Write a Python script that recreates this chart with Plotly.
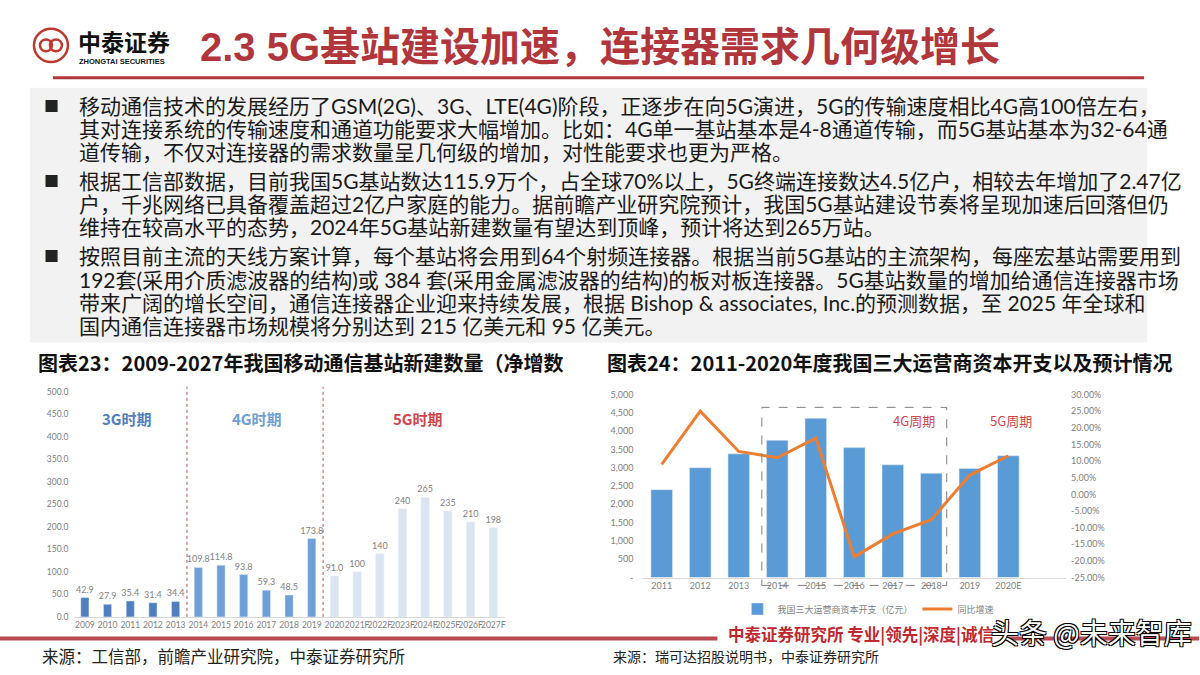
import plotly.graph_objects as go

W, H = 1200, 675
def px(x): return x / W
def py(y): return 1 - y / H

# ---------------- data ----------------
# Chart 23: new base stations (10k)
years23 = ["2009", "2010", "2011", "2012", "2013", "2014", "2015", "2016", "2017", "2018",
           "2019", "2020", "2021F", "2022F", "2023F", "2024F", "2025F", "2026F", "2027F"]
stations23 = [42.9, 27.9, 35.4, 31.4, 34.4, 109.8, 114.8, 93.8, 59.3, 48.5,
              173.8, 91.0, 100, 140, 240, 265, 235, 210, 198]
period23 = ["3G"] * 5 + ["4G"] * 6 + ["5G"] * 8

# Chart 24: capex of the three operators (100m CNY) and YoY growth (%)
years24 = ["2011", "2012", "2013", "2014", "2015", "2016", "2017", "2018", "2019", "2020E"]
capex24 = [2400, 3000, 3380, 3750, 4350, 3550, 3080, 2850, 2980, 3330]
yoy24 = [9.0, 25.0, 12.9, 11.0, 16.9, -18.8, -11.9, -7.6, 5.8, 11.6]

y23_ticks = list(range(0, 501, 50))
y24_ticks = list(range(0, 5001, 500))
y24r_ticks = list(range(-25, 31, 5))

body_lines = [
    "移动通信技术的发展经历了GSM(2G)、3G、LTE(4G)阶段，正逐步在向5G演进，5G的传输速度相比4G高100倍左右，",
    "其对连接系统的传输速度和通道功能要求大幅增加。比如：4G单一基站基本是4-8通道传输，而5G基站基本为32-64通",
    "道传输，不仅对连接器的需求数量呈几何级的增加，对性能要求也更为严格。",
    "根据工信部数据，目前我国5G基站数达115.9万个，占全球70%以上，5G终端连接数达4.5亿户，相较去年增加了2.47亿",
    "户，千兆网络已具备覆盖超过2亿户家庭的能力。据前瞻产业研究院预计，我国5G基站建设节奏将呈现加速后回落但仍",
    "维持在较高水平的态势，2024年5G基站新建数量有望达到顶峰，预计将达到265万站。",
    "按照目前主流的天线方案计算，每个基站将会用到64个射频连接器。根据当前5G基站的主流架构，每座宏基站需要用到",
    "192套(采用介质滤波器的结构)或 384 套(采用金属滤波器的结构)的板对板连接器。5G基站数量的增加给通信连接器市场",
    "带来广阔的增长空间，通信连接器企业迎来持续发展，根据 Bishop & associates, Inc.的预测数据，至 2025 年全球和",
    "国内通信连接器市场规模将分别达到 215 亿美元和 95 亿美元。",
]
body_y = [101, 125, 148, 177, 201, 224, 254, 278, 301, 325]
bullet_y = [101, 177, 254]

# ---------------- styles ----------------
CJK = "Lato, 'Noto Sans CJK SC', sans-serif"
SANS = "'Noto Sans CJK SC', sans-serif"
RED = "#b0363c"
period_colors = {"3G": "#4f7fbd", "4G": "#6e9fd7", "5G": "#dbe5f1"}

fig = go.Figure()

labels23 = [f"{v:.1f}" if i <= 11 else f"{v:.0f}" for i, v in enumerate(stations23)]
fig.add_trace(go.Bar(
    x=years23, y=stations23, xaxis="x", yaxis="y",
    marker_color=[period_colors[p] for p in period23], width=0.36,
    text=labels23, textposition="outside", cliponaxis=False, constraintext="none",
    textfont=dict(size=9, color="#7f7f7f", family="Lato, sans-serif"),
    showlegend=False, hoverinfo="skip",
))

fig.add_trace(go.Bar(
    x=years24, y=capex24, xaxis="x2", yaxis="y2",
    marker_color="#5b9bd5", width=0.56,
    name="我国三大运营商资本开支（亿元）",
))
fig.add_trace(go.Scatter(
    x=years24, y=yoy24, xaxis="x2", yaxis="y3", mode="lines",
    line=dict(color="#ed7d31", width=3),
    name="同比增速",
))

axis_font = dict(size=9, color="#808080", family="Lato, 'Noto Sans CJK SC', sans-serif")

fig.update_layout(
    width=W, height=H, margin=dict(l=0, r=0, t=0, b=0),
    paper_bgcolor="white", plot_bgcolor="rgba(0,0,0,0)",
    xaxis=dict(domain=[px(73.6), px(505)], type="category", range=[-0.5, 18.5],
               showline=True, linecolor="#d9d9d9", linewidth=1, ticks="",
               tickfont=dict(size=8.5, color="#808080", family="Lato, sans-serif"),
               tickangle=0, showgrid=False, fixedrange=True),
    yaxis=dict(domain=[py(621), py(392)], range=[0, 500], tickvals=y23_ticks,
               ticktext=[f"{v:.1f}" for v in y23_ticks], showgrid=False, zeroline=False,
               tickfont=dict(size=8.5, color="#808080", family="Lato, sans-serif"),
               ticklabelstandoff=4, fixedrange=True),
    xaxis2=dict(domain=[px(643), px(1067)], type="category", range=[-0.5, 10.5],
                showline=True, linecolor="#d9d9d9", linewidth=1, ticks="",
                tickfont=axis_font, showgrid=False, fixedrange=True, anchor="y2"),
    yaxis2=dict(domain=[py(581), py(395)], range=[0, 5000], tickvals=y24_ticks,
                ticktext=["-" if v == 0 else f"{v:,}" for v in y24_ticks],
                showgrid=False, zeroline=False, tickfont=axis_font, anchor="x2",
                ticklabelstandoff=8, fixedrange=True),
    yaxis3=dict(range=[-25, 30], tickvals=y24r_ticks,
                ticktext=[f"{v:.2f}%" for v in y24r_ticks], overlaying="y2",
                side="right", anchor="x2", showgrid=False, zeroline=False,
                tickfont=axis_font, ticklabelstandoff=4, fixedrange=True),
    legend=dict(orientation="h", x=px(738), xanchor="left", y=py(613), yanchor="middle",
                font=dict(size=9, color="#808080", family=SANS),
                bgcolor="rgba(0,0,0,0)", itemwidth=30, tracegroupgap=0),
)

shapes = []
# header red rule
shapes.append(dict(type="line", xref="paper", yref="paper", x0=px(53), x1=px(1145),
                   y0=py(73), y1=py(73), line=dict(color=RED, width=3)))
# text box background
shapes.append(dict(type="rect", xref="paper", yref="paper", x0=px(30), x1=px(1148),
                   y0=py(342), y1=py(83), fillcolor="#f2f2f2", line=dict(width=0), layer="below"))
# logo
shapes.append(dict(type="circle", xref="paper", yref="paper", x0=px(34), x1=px(68),
                   y0=py(57), y1=py(23), line=dict(color="#c0392f", width=2.5)))
shapes.append(dict(type="circle", xref="paper", yref="paper", x0=px(40), x1=px(52),
                   y0=py(46), y1=py(34), line=dict(color="#c0392f", width=2.5)))
shapes.append(dict(type="circle", xref="paper", yref="paper", x0=px(50), x1=px(62),
                   y0=py(46), y1=py(34), line=dict(color="#c0392f", width=2.5)))
# period separators in chart 23
for xv in (4.5, 10.5):
    shapes.append(dict(type="line", xref="x", yref="paper", x0=xv, x1=xv,
                       y0=py(621), y1=py(387), line=dict(color="#c0504d", width=1, dash="dot")))
# 4G cycle box in chart 24
shapes.append(dict(type="rect", xref="x2", yref="paper", x0=2.6, x1=7.4,
                   y0=py(589), y1=py(408), line=dict(color="#7f7f7f", width=1, dash="dash")))
# bottom red rules
shapes.append(dict(type="line", xref="paper", yref="paper", x0=0, x1=px(718),
                   y0=py(643), y1=py(643), line=dict(color="#b84a52", width=4)))
shapes.append(dict(type="line", xref="paper", yref="paper", x0=px(1005), x1=1,
                   y0=py(643), y1=py(643), line=dict(color="#b84a52", width=4)))
fig.update_layout(shapes=shapes)

ann = []
def text(x, y, s, size, color="#1a1a1a", weight="normal", xanchor="left", family=CJK, **kw):
    ann.append(dict(x=px(x), y=py(y), xref="paper", yref="paper", text=s, showarrow=False,
                    xanchor=xanchor, yanchor="middle",
                    font=dict(size=size, color=color, family=family, weight=weight, **kw)))

# header
text(76, 36, "中泰证券", 23, "#111111", "bold", family=SANS)
text(77, 56, "ZHONGTAI SECURITIES", 7.5, "#111111", "bold", family="'Liberation Sans', Arial, sans-serif")
text(198, 42, "2.3 5G基站建设加速，连接器需求几何级增长", 40, RED, "bold",
     family="'Liberation Sans', 'Noto Sans CJK SC', sans-serif")

# body text
for yb in bullet_y:
    text(52, yb, "■", 15, "#222222", xanchor="center", family=SANS)
for s, yl in zip(body_lines, body_y):
    text(77, yl, s, 21, "#1a1a1a")

# chart titles
text(36, 362, "图表23：2009-2027年我国移动通信基站新建数量（净增数", 20, "#111111", "bold", family=SANS)
text(606, 362, "图表24：2011-2020年度我国三大运营商资本开支以及预计情况", 20, "#111111", "bold", family=SANS)

# period labels
text(127, 419, "3G时期", 15, "#4f7fbd", "bold", xanchor="center", family=SANS)
text(257, 419, "4G时期", 15, "#6e9fd7", "bold", xanchor="center", family=SANS)
text(418, 419, "5G时期", 15, "#d0454a", "bold", xanchor="center", family=SANS)
text(915, 421, "4G周期", 13, "#d0454a", xanchor="center", family=SANS)
text(1012, 421, "5G周期", 13, "#d0454a", xanchor="center", family=SANS)

# footer
text(862, 638, "中泰证券研究所 专业|领先|深度|诚信", 16.5, "#c0282e", "bold", xanchor="center", family=SANS)
text(40, 661, "来源：工信部，前瞻产业研究院，中泰证券研究所", 16.5, "#222222", family=SANS)
text(612, 661, "来源：瑞可达招股说明书，中泰证券研究所", 14, "#222222", family=SANS)
text(1092, 636, "头条 @未来智库", 28, "white", xanchor="center", family=SANS,
     shadow="1px 1px 0 #000, -1px -1px 0 #000, 1px -1px 0 #000, -1px 1px 0 #000")

fig.update_layout(annotations=ann)
fig.write_html("out.html")
